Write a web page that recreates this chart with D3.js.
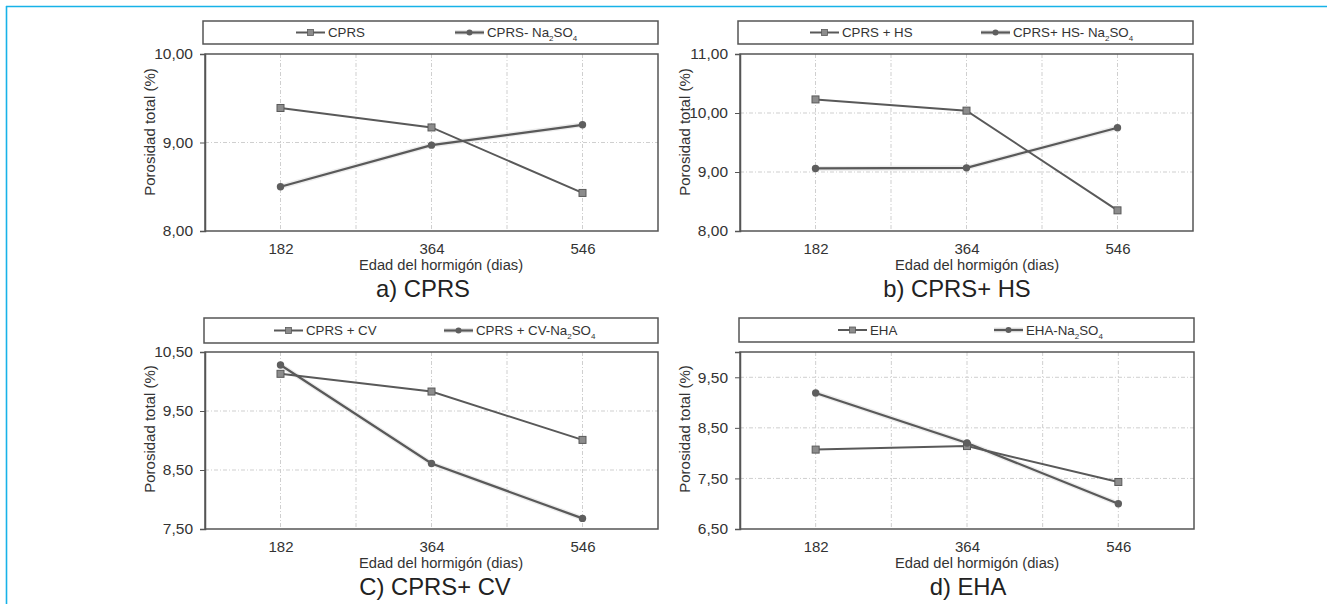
<!DOCTYPE html>
<html>
<head>
<meta charset="utf-8">
<script src="https://cdn.jsdelivr.net/npm/d3@7"></script>
<style>
  html, body { margin: 0; padding: 0; background: #ffffff; }
  svg { display: block; font-family: "Liberation Sans", Arial, sans-serif; }
</style>
</head>
<body>
<svg id="chart" width="1327" height="604"></svg>
<script>
// ---------- DATA ----------
const categories = ["182", "364", "546"];

const cprs        = [9.39, 9.17, 8.43];
const cprsNa      = [8.50, 8.97, 9.20];
const cprsHs      = [10.23, 10.04, 8.35];
const cprsHsNa    = [9.06, 9.07, 9.75];
const cprsCv      = [10.13, 9.83, 9.01];
const cprsCvNa    = [10.28, 8.61, 7.68];
const eha         = [8.07, 8.14, 7.43];
const ehaNa       = [9.19, 8.20, 7.00];

const yTicksA = [8.0, 9.0, 10.0];
const yTicksB = [8.0, 9.0, 10.0, 11.0];
const yTicksC = [7.5, 8.5, 9.5, 10.5];
const yTicksD = [6.5, 7.5, 8.5, 9.5];

const yDomainA = [8, 10];
const yDomainB = [8, 11];
const yDomainC = [7.5, 10.5];
const yDomainD = [6.5, 10.0];

const legendA = [["CPRS"], ["CPRS- Na", "2", "SO", "4"]];
const legendB = [["CPRS + HS"], ["CPRS+ HS- Na", "2", "SO", "4"]];
const legendC = [["CPRS + CV"], ["CPRS + CV-Na", "2", "SO", "4"]];
const legendD = [["EHA"], ["EHA-Na", "2", "SO", "4"]];

const panelTitles = ["a) CPRS", "b) CPRS+ HS", "C) CPRS+ CV", "d) EHA"];
const xTitle = "Edad del hormigón (dias)";
const yTitle = "Porosidad total (%)";

// ---------- LAYOUT ----------
const panels = [
  { left: 205, right: 658, top: 54, bottom: 231, legTop: 21, legBot: 44, legLeft: 203,
    legOff: [93, 252], s1: cprs, s2: cprsNa, ticks: yTicksA, dom: yDomainA, leg: legendA,
    title: panelTitles[0], yTitleY: 132, titleX: 423, xTitleX: 441 },
  { left: 740, right: 1193, top: 54, bottom: 231, legTop: 21, legBot: 44, legLeft: 738,
    legOff: [72, 243], s1: cprsHs, s2: cprsHsNa, ticks: yTicksB, dom: yDomainB, leg: legendB,
    title: panelTitles[1], yTitleY: 132, titleX: 957, xTitleX: 977 },
  { left: 205, right: 658, top: 352, bottom: 529, legTop: 318, legBot: 343, legLeft: 204,
    legOff: [70, 240], s1: cprsCv, s2: cprsCvNa, ticks: yTicksC, dom: yDomainC, leg: legendC,
    title: panelTitles[2], yTitleY: 429, titleX: 435, xTitleX: 441 },
  { left: 740, right: 1194, top: 352, bottom: 529, legTop: 318, legBot: 342, legLeft: 739,
    legOff: [99, 255], s1: eha, s2: ehaNa, ticks: yTicksD, dom: yDomainD, leg: legendD,
    title: panelTitles[3], yTitleY: 429, titleX: 968, xTitleX: 977 }
];

const svg = d3.select("#chart");
const lineCol = "#595959";
const fmt = v => d3.format(".2f")(v).replace(".", ",");

// blue frame
svg.append("line").attr("x1", 6).attr("x2", 1327).attr("y1", 6.5).attr("y2", 6.5)
  .attr("stroke", "#17b2e8").attr("stroke-width", 1.6);
svg.append("line").attr("x1", 6.5).attr("x2", 6.5).attr("y1", 6).attr("y2", 604)
  .attr("stroke", "#17b2e8").attr("stroke-width", 1.6);

function drawLegendText(sel, parts) {
  const t = sel;
  t.append("tspan").text(parts[0]);
  if (parts.length > 1) {
    t.append("tspan").attr("font-size", 8).attr("dy", 4).text(parts[1]);
    t.append("tspan").attr("dy", -4).text(parts[2]);
    t.append("tspan").attr("font-size", 8).attr("dy", 4).text(parts[3]);
  }
}

panels.forEach(p => {
  const g = svg.append("g");
  const x = d3.scalePoint().domain(categories).range([p.left, p.right]).padding(0.5);
  const y = d3.scaleLinear().domain(p.dom).range([p.bottom, p.top]);
  const w = p.right - p.left;

  // gridlines vertical (half-band)
  for (let k = 1; k <= 5; k++) {
    const gx = p.left + k * w / 6;
    g.append("line").attr("x1", gx).attr("x2", gx).attr("y1", p.top).attr("y2", p.bottom)
      .attr("stroke", "#cfcfcf").attr("stroke-width", 1).attr("stroke-dasharray", "4,2,1,2");
  }
  // gridlines horizontal
  p.ticks.forEach(t => {
    if (t > p.dom[0] && t < p.dom[1]) {
      g.append("line").attr("x1", p.left).attr("x2", p.right).attr("y1", y(t)).attr("y2", y(t))
        .attr("stroke", "#cfcfcf").attr("stroke-width", 1).attr("stroke-dasharray", "4,2,1,2");
    }
  });

  // frame
  g.append("rect").attr("x", p.left).attr("y", p.top).attr("width", w).attr("height", p.bottom - p.top)
    .attr("fill", "none").attr("stroke", "#555").attr("stroke-width", 1.5);

  // y axis
  const ya = g.append("g").attr("transform", `translate(${p.left},0)`)
    .call(d3.axisLeft(y).tickValues(p.ticks).tickFormat(fmt).tickSize(5).tickPadding(7));
  ya.select(".domain").attr("stroke", "#555").attr("stroke-width", 1.5);
  ya.selectAll(".tick line").attr("stroke", "#555");
  ya.selectAll(".tick text").attr("font-size", 15.5).attr("fill", "#333")
    .attr("font-family", "Liberation Sans, Arial, sans-serif");

  // x axis
  const xa = g.append("g").attr("transform", `translate(0,${p.bottom})`)
    .call(d3.axisBottom(x).tickSize(0).tickPadding(0));
  xa.select(".domain").remove();
  xa.selectAll(".tick text").attr("font-size", 15).attr("fill", "#333").attr("dy", 0).attr("y", 23)
    .attr("font-family", "Liberation Sans, Arial, sans-serif");

  // axis titles
  g.append("text").attr("x", p.xTitleX).attr("y", p.bottom + 39).attr("text-anchor", "middle")
    .attr("font-size", 14.7).attr("fill", "#333").text(xTitle);
  g.append("text").attr("transform", `translate(${p.left - 55},${p.yTitleY}) rotate(-90)`)
    .attr("text-anchor", "middle").attr("dy", "0.35em")
    .attr("font-size", 15).attr("fill", "#333").text(yTitle);

  // panel title
  g.append("text").attr("x", p.titleX).attr("y", p.bottom + 66).attr("text-anchor", "middle")
    .attr("font-size", 23.8).attr("fill", "#222").text(p.title);

  // series lines
  const line = d3.line().x((d, i) => x(categories[i])).y(d => y(d));
  g.append("path").datum(p.s2).attr("d", line).attr("fill", "none")
    .attr("stroke", "#ededed").attr("stroke-width", 5).attr("stroke-linejoin", "round");
  g.append("path").datum(p.s2).attr("d", line).attr("fill", "none")
    .attr("stroke", lineCol).attr("stroke-width", 2.2);
  g.append("path").datum(p.s1).attr("d", line).attr("fill", "none")
    .attr("stroke", lineCol).attr("stroke-width", 2);

  g.selectAll(".sq").data(p.s1).enter().append("rect")
    .attr("x", (d, i) => x(categories[i]) - 3.5).attr("y", d => y(d) - 3.5)
    .attr("width", 7).attr("height", 7).attr("fill", "#8c8c8c").attr("stroke", "#5a5a5a").attr("stroke-width", 1);
  g.selectAll(".ci").data(p.s2).enter().append("circle")
    .attr("cx", (d, i) => x(categories[i])).attr("cy", d => y(d)).attr("r", 3.7)
    .attr("fill", "#5e5e5e");

  // legend box
  g.append("rect").attr("x", p.legLeft).attr("y", p.legTop).attr("width", p.right - p.legLeft)
    .attr("height", p.legBot - p.legTop).attr("fill", "#fff").attr("stroke", "#555").attr("stroke-width", 1.5);
  const ly = (p.legTop + p.legBot) / 2;
  p.leg.forEach((parts, i) => {
    const lx = p.legLeft + p.legOff[i];
    if (i === 1) {
      g.append("line").attr("x1", lx).attr("x2", lx + 29).attr("y1", ly).attr("y2", ly)
        .attr("stroke", "#e6e6e6").attr("stroke-width", 5);
    }
    g.append("line").attr("x1", lx).attr("x2", lx + 29).attr("y1", ly).attr("y2", ly)
      .attr("stroke", lineCol).attr("stroke-width", i === 1 ? 2.2 : 2);
    if (i === 0) {
      g.append("rect").attr("x", lx + 14.5 - 3).attr("y", ly - 3).attr("width", 6).attr("height", 6)
        .attr("fill", "#8c8c8c").attr("stroke", "#5a5a5a").attr("stroke-width", 0.8);
    } else {
      g.append("circle").attr("cx", lx + 14.5).attr("cy", ly).attr("r", 3).attr("fill", "#5e5e5e");
    }
    const t = g.append("text").attr("x", lx + 32).attr("y", ly).attr("dy", "0.35em")
      .attr("font-size", 13.3).attr("fill", "#333");
    drawLegendText(t, parts);
  });
});
</script>
</body>
</html>
